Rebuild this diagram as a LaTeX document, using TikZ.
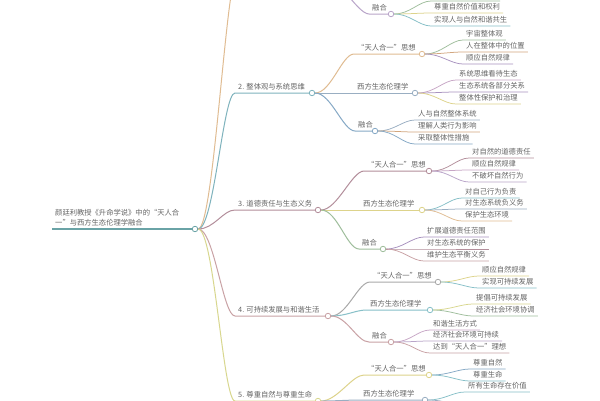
\documentclass[tikz,border=0pt]{standalone}
\usepackage{fontspec}
\newfontfamily\cjk{Noto Sans CJK SC}
\definecolor{txt}{HTML}{646464}
\definecolor{rootc}{HTML}{6AA3A6}
\definecolor{cTan}{HTML}{E0BC92}
\definecolor{cTeal}{HTML}{7FB3BD}
\definecolor{cMauve}{HTML}{B38E9B}
\definecolor{cRose}{HTML}{C9A2A5}
\definecolor{cLime}{HTML}{D8D78E}
\definecolor{cLav}{HTML}{B9A5C9}
\definecolor{cSage}{HTML}{9FBE9C}
\definecolor{cBlue}{HTML}{86A9C6}
\definecolor{cGrey}{HTML}{A9A9A9}
\definecolor{cYel}{HTML}{DDD38B}
\definecolor{cAqua}{HTML}{87C0C8}
\definecolor{cPurp}{HTML}{A892BF}
\definecolor{cOrng}{HTML}{D2A67E}
\definecolor{cPink}{HTML}{C7A6C6}
\definecolor{cSlate}{HTML}{99AEC2}

\begin{document}
\begin{tikzpicture}[x=1pt, y=-1pt]
\tikzstyle{topic}=[anchor=south west, inner xsep=3pt, inner ysep=2.6pt, font=\cjk\fontsize{7.3}{10}\selectfont, text=txt]
\tikzstyle{dot}=[circle, draw, fill=white, inner sep=0pt, minimum size=5.5pt, line width=0.8pt]
\tikzstyle{curve}=[to path={.. controls +(16,0) and +(-12,0) .. (\tikztotarget)}]
\tikzstyle{branch}=[line width=1pt]
\tikzstyle{twig}=[line width=0.75pt]

\clip (0,0) rectangle (600,400);
\fill[white] (0,0) rectangle (600,400);

% root
\node[topic, align=left] (root) at (52,229) {颜廷利教授《升命学说》中的“天人合\\一”与西方生态伦理学融合};
\node[dot, draw=rootc] (rc) at (195,229) {};
\draw[rootc, line width=1.5pt] (root.south west) -- (rc.west);

% main branches
\coordinate (p1) at (238,-30);
\coordinate (p1c) at (318,-30);
\draw[branch, cTan] (rc.east) to[curve] (p1) -- (p1c);
\node[topic] (p2) at (235,93) {2. 整体观与系统思维};
\node[dot, draw=cTeal] (p2c) at (312,93) {};
\draw[branch, cTeal] (rc.east) to[curve] (p2.south west) -- (p2c.west);
\node[topic] (p3) at (235,210) {3. 道德责任与生态义务};
\node[dot, draw=cMauve] (p3c) at (318,210) {};
\draw[branch, cMauve] (rc.east) to[curve] (p3.south west) -- (p3c.west);
\node[topic] (p4) at (235,316) {4. 可持续发展与和谐生活};
\node[dot, draw=cRose] (p4c) at (328,316) {};
\draw[branch, cRose] (rc.east) to[curve] (p4.south west) -- (p4c.west);
\node[topic] (p5) at (235,401) {5. 尊重自然与尊重生命};
\node[dot, draw=cLime] (p5c) at (318,401) {};
\draw[branch, cLime] (rc.east) to[curve] (p5.south west) -- (p5c.west);

% branch 1 (only its last group is in view)
\node[topic] (f1) at (369,14) {融合};
\node[dot, draw=cLav] (f1c) at (391,14) {};
\draw[branch, cLav] (p1c) to[curve] (f1.south west) -- (f1c.west);
\coordinate (f1x) at (431,1);
\coordinate (f1y) at (500,1);
\draw[twig, cSage] (f1c.east) to[curve] (f1x) -- (f1y);
\foreach \n/\yy/\cc/\tt in {2/13/cYel/尊重自然价值和权利, 3/26/cAqua/实现人与自然和谐共生}{
  \node[topic] (f1l\n) at (431,\yy) {\tt};
  \draw[twig, draw=\cc] (f1c.east) to[curve] (f1l\n.south west) -- (f1l\n.south east);
}

% branch 2
\node[topic] (t2) at (354,54) {“天人合一”思想};
\node[dot, draw=cTan] (t2c) at (422,54) {};
\draw[branch, cTan] (p2c.east) to[curve] (t2.south west) -- (t2c.west);
\foreach \n/\yy/\cc/\tt in {1/40/cSage/宇宙整体观, 2/52/cOrng/人在整体中的位置, 3/64/cPurp/顺应自然规律}{
  \node[topic] (t2l\n) at (463,\yy) {\tt};
  \draw[twig, draw=\cc] (t2c.east) to[curve] (t2l\n.south west) -- (t2l\n.south east);
}
\node[topic] (w2) at (354,93) {西方生态伦理学};
\node[dot, draw=cSlate] (w2c) at (415,93) {};
\draw[branch, cSlate] (p2c.east) -- (w2c.west);
\foreach \n/\yy/\cc/\tt in {1/80/cPink/系统思维看待生态, 2/92/cPurp/生态系统各部分关系, 3/104/cYel/整体性保护和治理}{
  \node[topic] (w2l\n) at (456,\yy) {\tt};
  \draw[twig, draw=\cc] (w2c.east) to[curve] (w2l\n.south west) -- (w2l\n.south east);
}
\node[topic] (f2) at (355,131) {融合};
\node[dot, draw=cBlue] (f2c) at (375,131) {};
\draw[branch, cBlue] (p2c.east) to[curve] (f2.south west) -- (f2c.west);
\foreach \n/\yy/\cc/\tt in {1/120/cSlate/人与自然整体系统, 2/132/cOrng/理解人类行为影响, 3/144/cBlue/采取整体性措施}{
  \node[topic] (f2l\n) at (415,\yy) {\tt};
  \draw[twig, draw=\cc] (f2c.east) to[curve] (f2l\n.south west) -- (f2l\n.south east);
}

% branch 3
\node[topic] (t3) at (364,171) {“天人合一”思想};
\node[dot, draw=cMauve] (t3c) at (429,171) {};
\draw[branch, cMauve] (p3c.east) to[curve] (t3.south west) -- (t3c.west);
\foreach \n/\yy/\cc/\tt in {1/158/cMauve/对自然的道德责任, 2/170/cPink/顺应自然规律, 3/182/cLav/不破坏自然行为}{
  \node[topic] (t3l\n) at (469,\yy) {\tt};
  \draw[twig, draw=\cc] (t3c.east) to[curve] (t3l\n.south west) -- (t3l\n.south east);
}
\node[topic] (w3) at (360,210) {西方生态伦理学};
\node[dot, draw=cYel] (w3c) at (422,210) {};
\draw[branch, cYel] (p3c.east) -- (w3c.west);
\foreach \n/\yy/\cc/\tt in {1/198/cAqua/对自己行为负责, 2/209/cSlate/对生态系统负义务, 3/221/cTan/保护生态环境}{
  \node[topic] (w3l\n) at (462,\yy) {\tt};
  \draw[twig, draw=\cc] (w3c.east) to[curve] (w3l\n.south west) -- (w3l\n.south east);
}
\node[topic] (f3) at (359,249) {融合};
\node[dot, draw=cSage] (f3c) at (383,249) {};
\draw[branch, cSage] (p3c.east) to[curve] (f3.south west) -- (f3c.west);
\foreach \n/\yy/\cc/\tt in {1/237/cPurp/扩展道德责任范围, 2/249/cMauve/对生态系统的保护, 3/261/cRose/维护生态平衡义务}{
  \node[topic] (f3l\n) at (424,\yy) {\tt};
  \draw[twig, draw=\cc] (f3c.east) to[curve] (f3l\n.south west) -- (f3l\n.south east);
}

% branch 4
\node[topic] (t4) at (370,282) {“天人合一”思想};
\node[dot, draw=cGrey] (t4c) at (438,282) {};
\draw[branch, cGrey] (p4c.east) to[curve] (t4.south west) -- (t4c.west);
\foreach \n/\yy/\cc/\tt in {1/276/cYel/顺应自然规律, 2/288/cAqua/实现可持续发展}{
  \node[topic] (t4l\n) at (479,\yy) {\tt};
  \draw[twig, draw=\cc] (t4c.east) to[curve] (t4l\n.south west) -- (t4l\n.south east);
}
\node[topic] (w4) at (367,310) {西方生态伦理学};
\node[dot, draw=cAqua] (w4c) at (430,310) {};
\draw[branch, cAqua] (p4c.east) to[curve] (w4.south west) -- (w4c.west);
\foreach \n/\yy/\cc/\tt in {1/304/cLime/提倡可持续发展, 2/316/cSage/经济社会环境协调}{
  \node[topic] (w4l\n) at (473,\yy) {\tt};
  \draw[twig, draw=\cc] (w4c.east) to[curve] (w4l\n.south west) -- (w4l\n.south east);
}
\node[topic] (f4) at (369,342) {融合};
\node[dot, draw=cRose] (f4c) at (391,342) {};
\draw[branch, cRose] (p4c.east) to[curve] (f4.south west) -- (f4c.west);
\foreach \n/\yy/\cc/\tt in {1/330/cPink/和谐生活方式, 2/341/cLav/经济社会环境可持续, 3/353/cRose/达到“天人合一”理想}{
  \node[topic] (f4l\n) at (430,\yy) {\tt};
  \draw[twig, draw=\cc] (f4c.east) to[curve] (f4l\n.south west) -- (f4l\n.south east);
}

% branch 5
\node[topic] (t5) at (364,375) {“天人合一”思想};
\node[dot, draw=cYel] (t5c) at (429,375) {};
\draw[branch, cYel] (p5c.east) to[curve] (t5.south west) -- (t5c.west);
\foreach \n/\yy/\cc/\tt in {1/369/cBlue/尊重自然, 2/381/cAqua/尊重生命}{
  \node[topic] (t5l\n) at (470,\yy) {\tt};
  \draw[twig, draw=\cc] (t5c.east) to[curve] (t5l\n.south west) -- (t5l\n.south east);
}
\node[topic] (w5) at (360,400) {西方生态伦理学};
\node[dot, draw=cSlate] (w5c) at (425,400) {};
\draw[branch, cSlate] (p5c.east) to[curve] (w5.south west) -- (w5c.west);
\node[topic] (w5l1) at (465,392) {所有生命存在价值};
\draw[twig, cAqua] (w5c.east) to[curve] (w5l1.south west) -- (w5l1.south east);
\coordinate (w5x) at (465,405);
\coordinate (w5y) at (530,405);
\draw[twig, cSlate] (w5c.east) to[curve] (w5x) -- (w5y);
\end{tikzpicture}
\end{document}
